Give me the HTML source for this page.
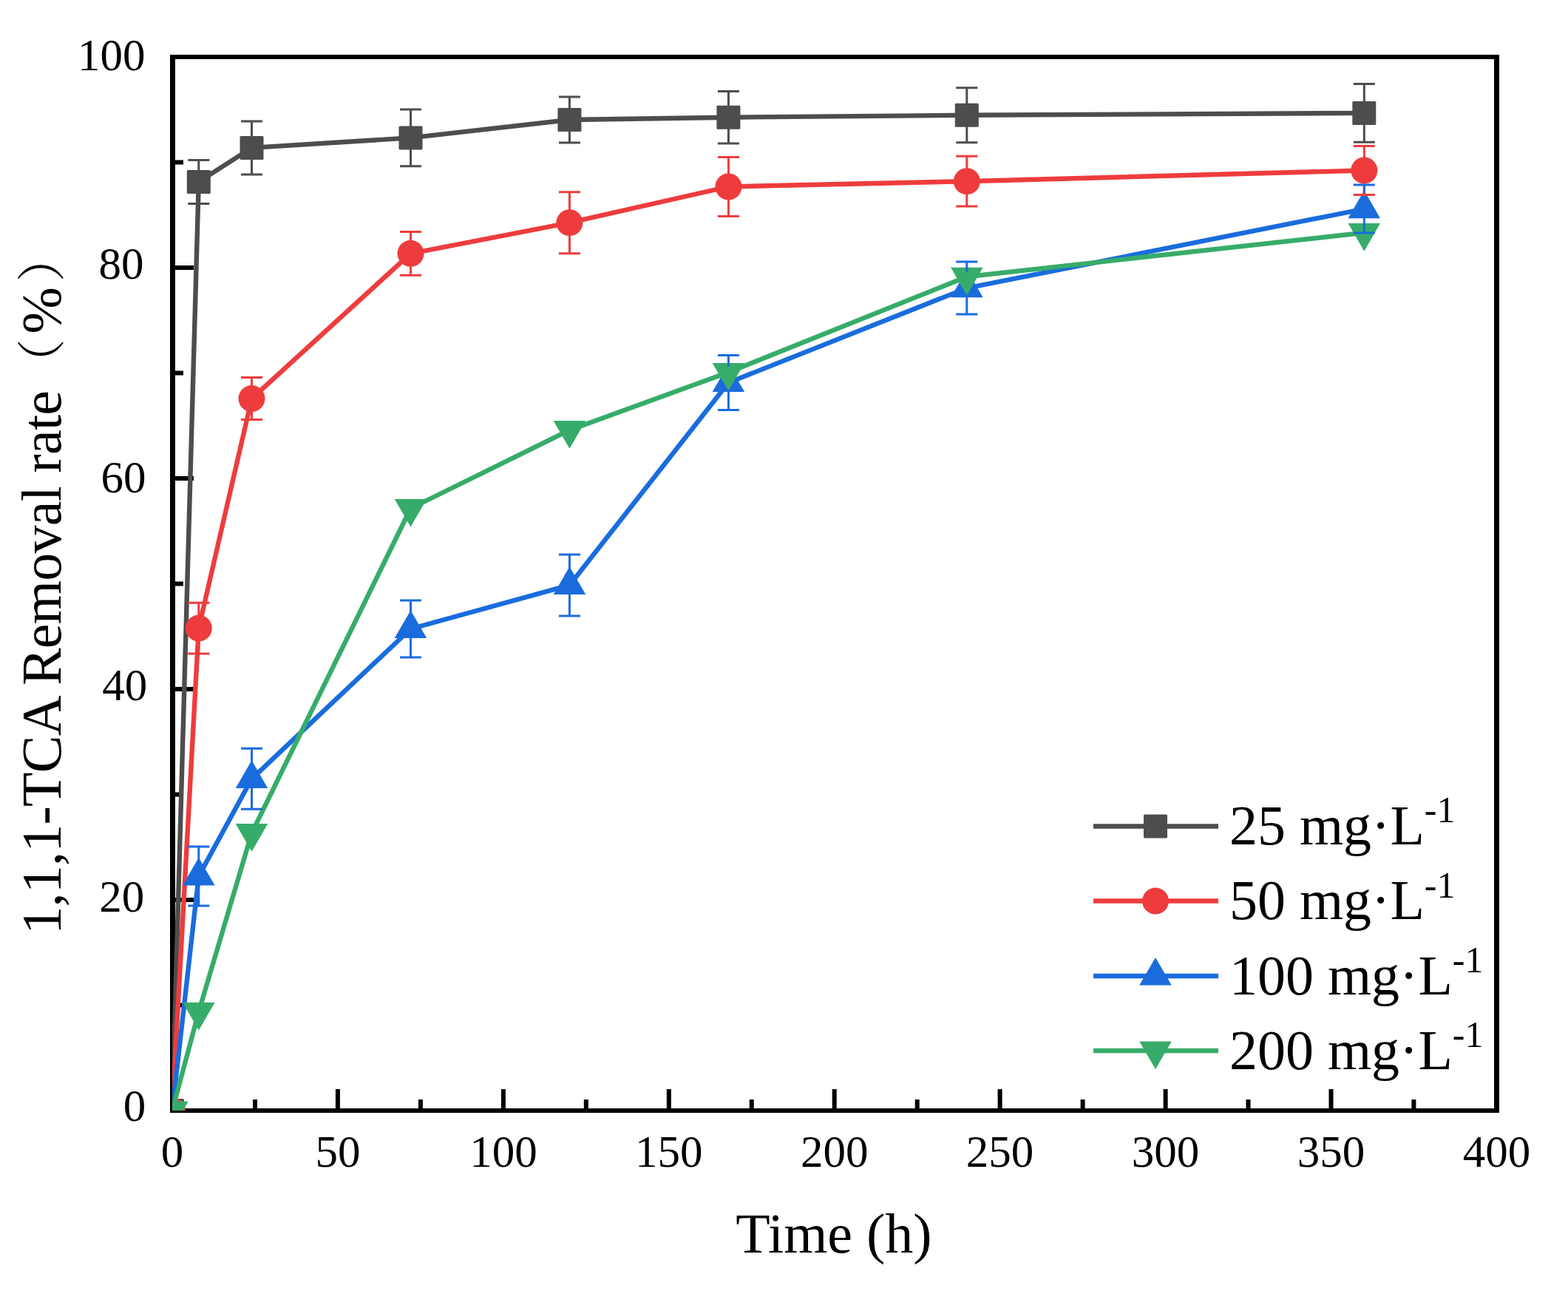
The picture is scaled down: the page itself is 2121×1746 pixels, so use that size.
<!DOCTYPE html>
<html><head><meta charset="utf-8"><title>1,1,1-TCA Removal rate</title>
<style>
html,body{margin:0;padding:0;background:#fff;}
body{width:2121px;height:1746px;overflow:hidden;}
svg{display:block;}
text{font-family:"Liberation Serif","Noto Serif CJK SC",serif;fill:#000;}
</style></head><body>
<svg width="2121" height="1746" viewBox="0 0 2121 1746">
<rect x="0" y="0" width="2121" height="1746" fill="#fff"/>

<g fill="#000">
<rect x="230" y="74" width="7" height="1431"/>
<rect x="2021" y="74" width="7" height="1431"/>
<rect x="230" y="74" width="1798" height="6"/>
<rect x="230" y="1499" width="1798" height="6"/>
<rect x="342.0" y="1487" width="6" height="13"/>
<rect x="453.9" y="1473" width="6" height="27"/>
<rect x="565.9" y="1487" width="6" height="13"/>
<rect x="677.9" y="1473" width="6" height="27"/>
<rect x="789.8" y="1487" width="6" height="13"/>
<rect x="901.8" y="1473" width="6" height="27"/>
<rect x="1013.7" y="1487" width="6" height="13"/>
<rect x="1125.7" y="1473" width="6" height="27"/>
<rect x="1237.7" y="1487" width="6" height="13"/>
<rect x="1349.6" y="1473" width="6" height="27"/>
<rect x="1461.6" y="1487" width="6" height="13"/>
<rect x="1573.6" y="1473" width="6" height="27"/>
<rect x="1685.5" y="1487" width="6" height="13"/>
<rect x="1797.5" y="1473" width="6" height="27"/>
<rect x="1909.4" y="1487" width="6" height="13"/>
<rect x="236" y="1356.5" width="12" height="6"/>
<rect x="236" y="1214.0" width="26" height="6"/>
<rect x="236" y="1071.5" width="12" height="6"/>
<rect x="236" y="929.0" width="26" height="6"/>
<rect x="236" y="786.5" width="12" height="6"/>
<rect x="236" y="644.0" width="26" height="6"/>
<rect x="236" y="501.5" width="12" height="6"/>
<rect x="236" y="359.0" width="26" height="6"/>
<rect x="236" y="216.5" width="12" height="6"/>
</g>
<g font-size="61" text-anchor="middle">
<text x="233.0" y="1578">0</text>
<text x="456.9" y="1578">50</text>
<text x="680.9" y="1578">100</text>
<text x="904.8" y="1578">150</text>
<text x="1128.7" y="1578">200</text>
<text x="1352.6" y="1578">250</text>
<text x="1576.6" y="1578">300</text>
<text x="1800.5" y="1578">350</text>
<text x="2024.4" y="1578">400</text>
</g>
<g font-size="61" text-anchor="end">
<text x="197.2" y="1516.3">0</text>
<text x="195.3" y="1233.4">20</text>
<text x="199.3" y="947.3">40</text>
<text x="197.4" y="666.4">60</text>
<text x="194.4" y="377.3">80</text>
<text x="196.5" y="95.3">100</text>
</g>
<text x="1128" y="1694" font-size="76" text-anchor="middle">Time (h)</text>
<text transform="translate(82,1263.8) rotate(-90)" font-size="76"><tspan x="0" y="0" textLength="735.8" lengthAdjust="spacing">1,1,1-TCA Removal rate</tspan><tspan x="739.5" y="-2.4" font-size="66">（</tspan><tspan x="812.3" y="0">%</tspan><tspan x="882.5" y="-2.4" font-size="66">）</tspan></text>
<defs><clipPath id="pc"><rect x="233" y="77" width="1791.5" height="1425"/></clipPath></defs>
<g clip-path="url(#pc)">
<polyline points="233.0,1502.0 268.8,245.9 340.5,199.9 555.5,186.4 770.4,162.0 985.4,158.7 1307.8,155.8 1845.3,152.9" fill="none" stroke="#4D4D4D" stroke-width="6.4" stroke-linejoin="round"/>
<rect x="217.0" y="1486.0" width="32.0" height="32.0" rx="1.5" fill="#4D4D4D"/>
<rect x="252.8" y="229.9" width="32.0" height="32.0" rx="1.5" fill="#4D4D4D"/>
<rect x="324.5" y="183.9" width="32.0" height="32.0" rx="1.5" fill="#4D4D4D"/>
<rect x="539.5" y="170.4" width="32.0" height="32.0" rx="1.5" fill="#4D4D4D"/>
<rect x="754.4" y="146.0" width="32.0" height="32.0" rx="1.5" fill="#4D4D4D"/>
<rect x="969.4" y="142.7" width="32.0" height="32.0" rx="1.5" fill="#4D4D4D"/>
<rect x="1291.8" y="139.8" width="32.0" height="32.0" rx="1.5" fill="#4D4D4D"/>
<rect x="1829.3" y="136.9" width="32.0" height="32.0" rx="1.5" fill="#4D4D4D"/>
<polyline points="233.0,1502.0 268.8,849.6 340.5,539.1 555.5,342.8 770.4,301.2 985.4,252.5 1307.8,245.2 1845.3,230.5" fill="none" stroke="#EE3C3D" stroke-width="6.4" stroke-linejoin="round"/>
<circle cx="233.0" cy="1502.0" r="18.0" fill="#EE3C3D"/>
<circle cx="268.8" cy="849.6" r="18.0" fill="#EE3C3D"/>
<circle cx="340.5" cy="539.1" r="18.0" fill="#EE3C3D"/>
<circle cx="555.5" cy="342.8" r="18.0" fill="#EE3C3D"/>
<circle cx="770.4" cy="301.2" r="18.0" fill="#EE3C3D"/>
<circle cx="985.4" cy="252.5" r="18.0" fill="#EE3C3D"/>
<circle cx="1307.8" cy="245.2" r="18.0" fill="#EE3C3D"/>
<circle cx="1845.3" cy="230.5" r="18.0" fill="#EE3C3D"/>
<polyline points="233.0,1502.0 268.8,1184.9 340.5,1053.3 555.5,850.5 770.4,791.4 985.4,517.5 1307.8,389.6 1845.3,282.6" fill="none" stroke="#1A6CDD" stroke-width="6.4" stroke-linejoin="round"/>
<path d="M233.0,1476.9 L254.8,1514.6 L211.2,1514.6 Z" fill="#1A6CDD"/>
<path d="M268.8,1159.8 L290.6,1197.5 L247.1,1197.5 Z" fill="#1A6CDD"/>
<path d="M340.5,1028.2 L362.2,1065.9 L318.7,1065.9 Z" fill="#1A6CDD"/>
<path d="M555.5,825.4 L577.2,863.1 L533.7,863.1 Z" fill="#1A6CDD"/>
<path d="M770.4,766.3 L792.2,804.0 L748.7,804.0 Z" fill="#1A6CDD"/>
<path d="M985.4,492.4 L1007.1,530.1 L963.6,530.1 Z" fill="#1A6CDD"/>
<path d="M1307.8,364.5 L1329.6,402.2 L1286.1,402.2 Z" fill="#1A6CDD"/>
<path d="M1845.3,257.5 L1867.0,295.2 L1823.5,295.2 Z" fill="#1A6CDD"/>
<polyline points="233.0,1502.0 268.8,1368.4 340.5,1126.6 555.5,687.5 770.4,581.7 985.4,503.5 1307.8,374.3 1845.3,314.7" fill="none" stroke="#37AC6A" stroke-width="6.4" stroke-linejoin="round"/>
<path d="M233.0,1527.1 L254.8,1489.4 L211.2,1489.4 Z" fill="#37AC6A"/>
<path d="M268.8,1393.5 L290.6,1355.8 L247.1,1355.8 Z" fill="#37AC6A"/>
<path d="M340.5,1151.7 L362.2,1114.0 L318.7,1114.0 Z" fill="#37AC6A"/>
<path d="M555.5,712.6 L577.2,674.9 L533.7,674.9 Z" fill="#37AC6A"/>
<path d="M770.4,606.8 L792.2,569.1 L748.7,569.1 Z" fill="#37AC6A"/>
<path d="M985.4,528.6 L1007.1,490.9 L963.6,490.9 Z" fill="#37AC6A"/>
<path d="M1307.8,399.4 L1329.6,361.7 L1286.1,361.7 Z" fill="#37AC6A"/>
<path d="M1845.3,339.8 L1867.0,302.1 L1823.5,302.1 Z" fill="#37AC6A"/>
<path d="M268.8,232.9 V216.4 M268.8,258.9 V275.4" stroke="#4D4D4D" stroke-width="3" fill="none"/>
<path d="M254.3,216.4 H283.3 M254.3,275.4 H283.3" stroke="#4D4D4D" stroke-width="3" fill="none"/>
<path d="M340.5,186.9 V163.9 M340.5,212.9 V235.9" stroke="#4D4D4D" stroke-width="3" fill="none"/>
<path d="M326.0,163.9 H355.0 M326.0,235.9 H355.0" stroke="#4D4D4D" stroke-width="3" fill="none"/>
<path d="M555.5,173.4 V148.1 M555.5,199.4 V224.7" stroke="#4D4D4D" stroke-width="3" fill="none"/>
<path d="M541.0,148.1 H570.0 M541.0,224.7 H570.0" stroke="#4D4D4D" stroke-width="3" fill="none"/>
<path d="M770.4,149.0 V131.0 M770.4,175.0 V193.0" stroke="#4D4D4D" stroke-width="3" fill="none"/>
<path d="M755.9,131.0 H784.9 M755.9,193.0 H784.9" stroke="#4D4D4D" stroke-width="3" fill="none"/>
<path d="M985.4,145.7 V123.4 M985.4,171.7 V194.0" stroke="#4D4D4D" stroke-width="3" fill="none"/>
<path d="M970.9,123.4 H999.9 M970.9,194.0 H999.9" stroke="#4D4D4D" stroke-width="3" fill="none"/>
<path d="M1307.8,142.8 V118.8 M1307.8,168.8 V192.8" stroke="#4D4D4D" stroke-width="3" fill="none"/>
<path d="M1293.3,118.8 H1322.3 M1293.3,192.8 H1322.3" stroke="#4D4D4D" stroke-width="3" fill="none"/>
<path d="M1845.3,139.9 V113.5 M1845.3,165.9 V192.3" stroke="#4D4D4D" stroke-width="3" fill="none"/>
<path d="M1830.8,113.5 H1859.8 M1830.8,192.3 H1859.8" stroke="#4D4D4D" stroke-width="3" fill="none"/>
<path d="M268.8,834.6 V815.2 M268.8,864.6 V884.0" stroke="#EE3C3D" stroke-width="3" fill="none"/>
<path d="M254.3,815.2 H283.3 M254.3,884.0 H283.3" stroke="#EE3C3D" stroke-width="3" fill="none"/>
<path d="M340.5,524.1 V510.6 M340.5,554.1 V567.6" stroke="#EE3C3D" stroke-width="3" fill="none"/>
<path d="M326.0,510.6 H355.0 M326.0,567.6 H355.0" stroke="#EE3C3D" stroke-width="3" fill="none"/>
<path d="M555.5,327.8 V313.4 M555.5,357.8 V372.2" stroke="#EE3C3D" stroke-width="3" fill="none"/>
<path d="M541.0,313.4 H570.0 M541.0,372.2 H570.0" stroke="#EE3C3D" stroke-width="3" fill="none"/>
<path d="M770.4,286.2 V259.7 M770.4,316.2 V342.7" stroke="#EE3C3D" stroke-width="3" fill="none"/>
<path d="M755.9,259.7 H784.9 M755.9,342.7 H784.9" stroke="#EE3C3D" stroke-width="3" fill="none"/>
<path d="M985.4,237.5 V212.5 M985.4,267.5 V292.5" stroke="#EE3C3D" stroke-width="3" fill="none"/>
<path d="M970.9,212.5 H999.9 M970.9,292.5 H999.9" stroke="#EE3C3D" stroke-width="3" fill="none"/>
<path d="M1307.8,230.2 V211.3 M1307.8,260.2 V279.1" stroke="#EE3C3D" stroke-width="3" fill="none"/>
<path d="M1293.3,211.3 H1322.3 M1293.3,279.1 H1322.3" stroke="#EE3C3D" stroke-width="3" fill="none"/>
<path d="M1845.3,215.5 V197.5 M1845.3,245.5 V263.5" stroke="#EE3C3D" stroke-width="3" fill="none"/>
<path d="M1830.8,197.5 H1859.8 M1830.8,263.5 H1859.8" stroke="#EE3C3D" stroke-width="3" fill="none"/>
<path d="M268.8,1162.8 V1144.9 M268.8,1194.5 V1224.9" stroke="#1A6CDD" stroke-width="3" fill="none"/>
<path d="M254.3,1144.9 H283.3 M254.3,1224.9 H283.3" stroke="#1A6CDD" stroke-width="3" fill="none"/>
<path d="M340.5,1031.2 V1012.3 M340.5,1062.9 V1094.3" stroke="#1A6CDD" stroke-width="3" fill="none"/>
<path d="M326.0,1012.3 H355.0 M326.0,1094.3 H355.0" stroke="#1A6CDD" stroke-width="3" fill="none"/>
<path d="M555.5,828.4 V811.9 M555.5,860.1 V889.1" stroke="#1A6CDD" stroke-width="3" fill="none"/>
<path d="M541.0,811.9 H570.0 M541.0,889.1 H570.0" stroke="#1A6CDD" stroke-width="3" fill="none"/>
<path d="M770.4,769.3 V749.9 M770.4,801.0 V832.9" stroke="#1A6CDD" stroke-width="3" fill="none"/>
<path d="M755.9,749.9 H784.9 M755.9,832.9 H784.9" stroke="#1A6CDD" stroke-width="3" fill="none"/>
<path d="M985.4,495.4 V480.5 M985.4,527.1 V554.5" stroke="#1A6CDD" stroke-width="3" fill="none"/>
<path d="M970.9,480.5 H999.9 M970.9,554.5 H999.9" stroke="#1A6CDD" stroke-width="3" fill="none"/>
<path d="M1307.8,367.5 V354.1 M1307.8,399.2 V425.1" stroke="#1A6CDD" stroke-width="3" fill="none"/>
<path d="M1293.3,354.1 H1322.3 M1293.3,425.1 H1322.3" stroke="#1A6CDD" stroke-width="3" fill="none"/>
<path d="M1845.3,260.5 V250.1 M1845.3,292.2 V315.1" stroke="#1A6CDD" stroke-width="3" fill="none"/>
<path d="M1830.8,250.1 H1859.8 M1830.8,315.1 H1859.8" stroke="#1A6CDD" stroke-width="3" fill="none"/>
</g>
<line x1="1479" y1="1117.4" x2="1648" y2="1117.4" stroke="#4D4D4D" stroke-width="6.5"/>
<rect x="1547.0" y="1101.4" width="32.0" height="32.0" rx="1.5" fill="#4D4D4D"/>
<text x="1663" y="1141.9" font-size="76">25 mg·L<tspan font-size="50" dy="-29.6">-1</tspan></text>
<line x1="1479" y1="1218.6" x2="1648" y2="1218.6" stroke="#EE3C3D" stroke-width="6.5"/>
<circle cx="1563.0" cy="1218.6" r="18.0" fill="#EE3C3D"/>
<text x="1663" y="1243.1" font-size="76">50 mg·L<tspan font-size="50" dy="-29.6">-1</tspan></text>
<line x1="1479" y1="1320.0" x2="1648" y2="1320.0" stroke="#1A6CDD" stroke-width="6.5"/>
<path d="M1563.0,1294.9 L1584.8,1332.6 L1541.2,1332.6 Z" fill="#1A6CDD"/>
<text x="1663" y="1344.5" font-size="76">100 mg·L<tspan font-size="50" dy="-29.6">-1</tspan></text>
<line x1="1479" y1="1421.0" x2="1648" y2="1421.0" stroke="#37AC6A" stroke-width="6.5"/>
<path d="M1563.0,1446.1 L1584.8,1408.4 L1541.2,1408.4 Z" fill="#37AC6A"/>
<text x="1663" y="1445.5" font-size="76">200 mg·L<tspan font-size="50" dy="-29.6">-1</tspan></text>
</svg>
</body></html>
